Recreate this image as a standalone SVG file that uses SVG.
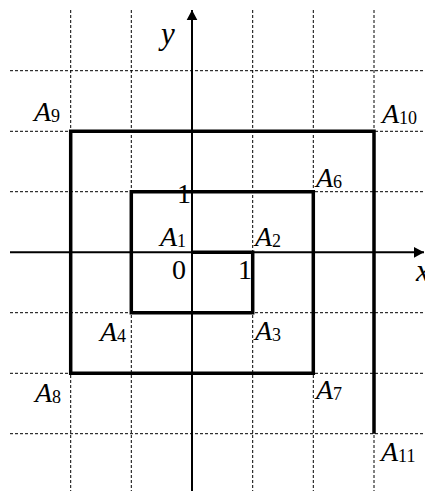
<svg xmlns="http://www.w3.org/2000/svg" width="425" height="491" viewBox="0 0 425 491">
<style>
.grid{stroke:#000;stroke-width:1;stroke-dasharray:3 2;fill:none}
.axis{stroke:#000;stroke-width:2;fill:none}
.spiral{stroke:#000;stroke-width:3.5;fill:none;stroke-linejoin:miter;stroke-linecap:butt}
text{font-family:"Liberation Serif","Times New Roman",serif;fill:#000}
.lbl{font-size:28px}
.it{font-style:italic}
.sub{font-size:18px;font-style:normal}
.ax{font-size:31px;font-style:italic}
</style>
<defs>
<marker id="arrow" markerUnits="userSpaceOnUse" markerWidth="20" markerHeight="20" viewBox="-10 -10 20 20" refX="0" refY="0" orient="auto">
<path d="M0,0 L-15,-8 L-11,0 L-15,8 Z" fill="#000"/>
</marker>
</defs>
<g id="grid">
<path class="grid" d="M70.7,10V491M131.3,10V491M252.7,10V491M313.3,10V491M374,10V491"/>
<path class="grid" d="M10,70.7H425M10,131.3H425M10,191.7H425M10,312.7H425M10,373.3H425M10,433.7H425"/>
</g>
<g id="axes">
<line class="axis" x1="10" y1="252.3" x2="424" y2="252.3" marker-end="url(#arrow)"/>
<line class="axis" x1="192" y1="491" x2="192" y2="10" marker-end="url(#arrow)"/>
<text class="ax" x="161" y="44">y</text>
<text class="ax" x="416" y="281">x</text>
</g>
<g id="connectors">
<path class="spiral" d="M192,252.3H252.7V312.7H131.3V191.7H313.3V373.3H70.7V131.3H374V433.7"/>
</g>
<g id="ticks">
<text class="lbl" x="177" y="203">1</text>
<text class="lbl" x="172" y="279">0</text>
<text class="lbl" x="238" y="279">1</text>
</g>
<g id="A1"><text class="lbl it" x="160" y="246">A<tspan class="sub" dy="1">1</tspan></text></g>
<g id="A2"><text class="lbl it" x="255" y="246">A<tspan class="sub" dy="1">2</tspan></text></g>
<g id="A3"><text class="lbl it" x="255" y="340">A<tspan class="sub" dy="1">3</tspan></text></g>
<g id="A4"><text class="lbl it" x="100" y="341">A<tspan class="sub" dy="1">4</tspan></text></g>
<g id="A6"><text class="lbl it" x="316" y="187">A<tspan class="sub" dy="1">6</tspan></text></g>
<g id="A7"><text class="lbl it" x="316" y="399">A<tspan class="sub" dy="1">7</tspan></text></g>
<g id="A8"><text class="lbl it" x="35" y="402">A<tspan class="sub" dy="1">8</tspan></text></g>
<g id="A9"><text class="lbl it" x="34" y="121">A<tspan class="sub" dy="1">9</tspan></text></g>
<g id="A10"><text class="lbl it" x="382" y="123">A<tspan class="sub" dy="1">10</tspan></text></g>
<g id="A11"><text class="lbl it" x="381" y="461">A<tspan class="sub" dy="1">11</tspan></text></g>
</svg>
